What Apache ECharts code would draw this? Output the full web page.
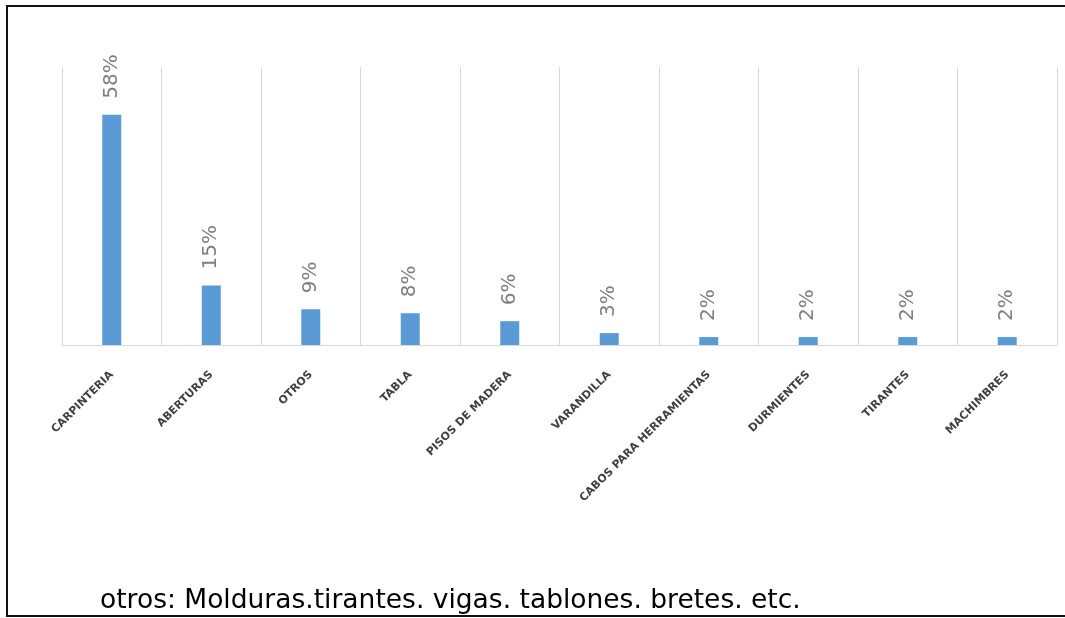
<!DOCTYPE html>
<html>
<head>
<meta charset="utf-8">
<script src="https://cdn.jsdelivr.net/npm/echarts@6/dist/echarts.min.js"></script>
<style>html,body{margin:0;padding:0;background:#fff;}#c{width:1065px;height:618px;}</style>
</head>
<body>
<div id="c"></div>
<script>
var categories = ['CARPINTERIA','ABERTURAS','OTROS','TABLA','PISOS DE MADERA','VARANDILLA','CABOS PARA HERRAMIENTAS','DURMIENTES','TIRANTES','MACHIMBRES'];
var values = [58, 15, 9, 8, 6, 3, 2, 2, 2, 2];
var footnote = 'otros: Molduras.tirantes. vigas. tablones. bretes. etc.';

var chart = echarts.init(document.getElementById('c'), null, {renderer: 'canvas'});
chart.setOption({
  animation: false,
  backgroundColor: '#ffffff',
  grid: {left: 62, right: 8, top: 67, bottom: 273, containLabel: false},
  xAxis: {
    type: 'category',
    data: categories,
    boundaryGap: true,
    axisLine: {show: true, lineStyle: {color: '#d9d9d9', width: 1}},
    axisTick: {show: false},
    splitLine: {show: true, interval: 0, lineStyle: {color: '#d9d9d9', width: 1}},
    axisLabel: {
      interval: 0,
      rotate: 45,
      margin: 28,
      color: '#404040',
      fontFamily: 'DejaVu Sans',
      fontWeight: 'bold',
      fontSize: 11
    }
  },
  yAxis: {
    type: 'value',
    min: 0,
    max: 70,
    show: false,
    splitLine: {show: false}
  },
  series: [{
    type: 'bar',
    data: values,
    barWidth: 19,
    itemStyle: {color: '#5b9bd5'},
    label: {
      show: true,
      position: 'top',
      distance: 16,
      rotate: 90,
      align: 'left',
      verticalAlign: 'middle',
      formatter: '{c}%',
      color: '#7f7f7f',
      fontFamily: 'DejaVu Sans',
      fontSize: 20
    }
  }],
  graphic: [
    {
      type: 'text',
      left: 100,
      top: 588,
      style: {
        text: footnote,
        fill: '#000000',
        font: '26.5px "DejaVu Sans", sans-serif'
      },
      z: 10
    },
    {
      type: 'rect',
      shape: {x: 7, y: 6, width: 1080, height: 610},
      style: {fill: 'none', stroke: '#111111', lineWidth: 2},
      z: 20
    }
  ]
});
</script>
</body>
</html>
